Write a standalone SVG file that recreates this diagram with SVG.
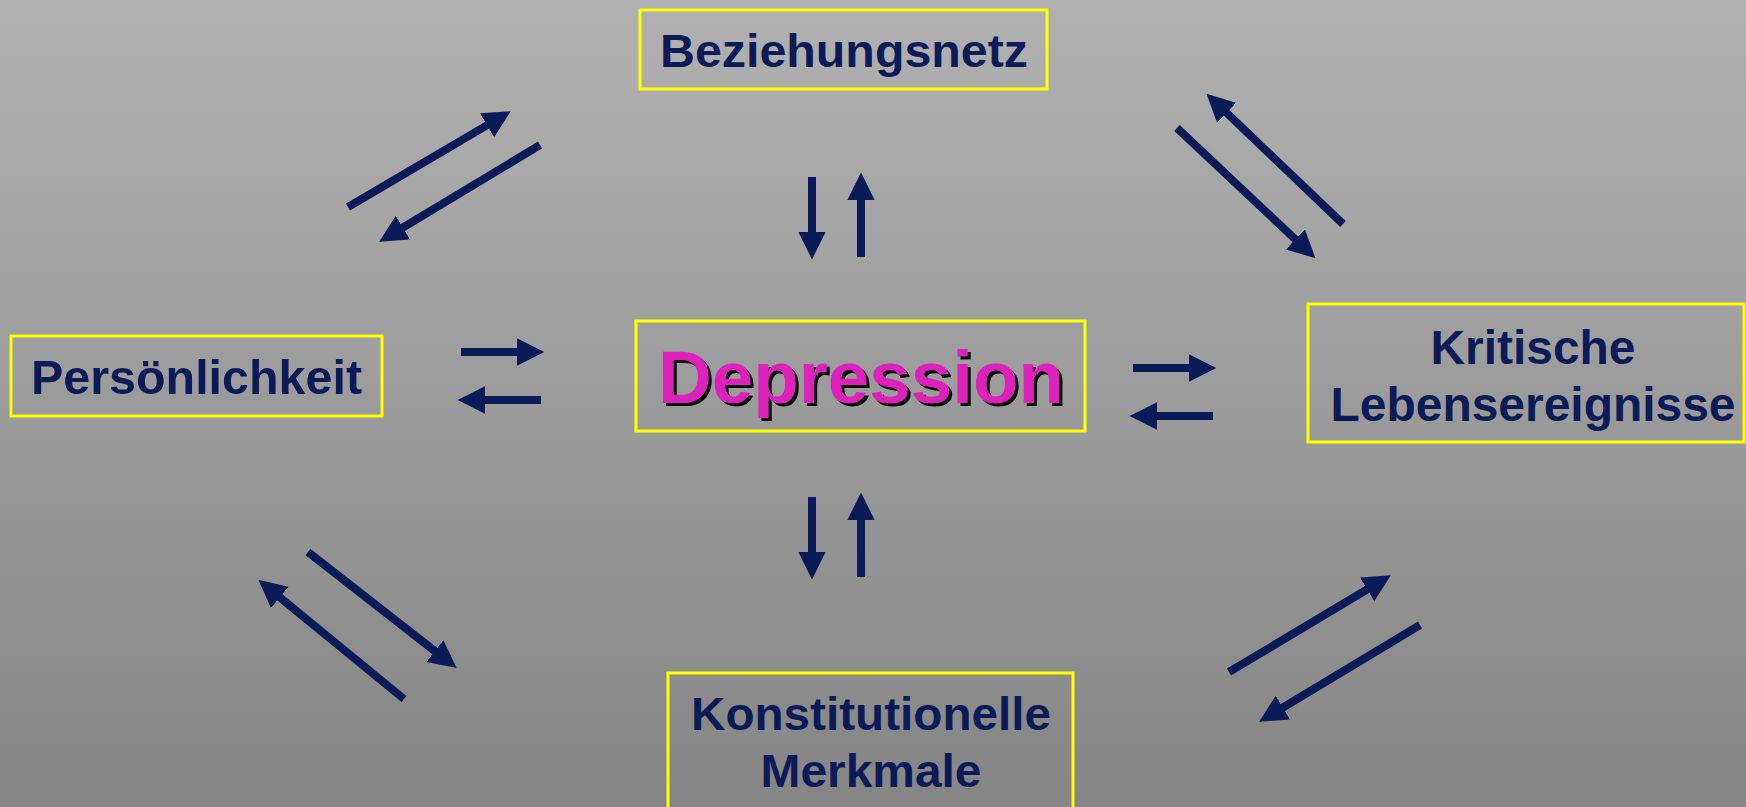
<svg xmlns="http://www.w3.org/2000/svg" width="1746" height="807" viewBox="0 0 1746 807">
<defs>
<linearGradient id="bg" x1="0" y1="0" x2="0" y2="1">
<stop offset="0" stop-color="#B1B1B1"/>
<stop offset="1" stop-color="#858585"/>
</linearGradient>
<marker id="ah" markerUnits="userSpaceOnUse" markerWidth="30" markerHeight="30" viewBox="0 -13 26 26" refX="2" refY="0" orient="auto">
<path d="M0,-12 L24,0 L0,12 z" fill="#0B1B57"/>
</marker>
<style>
.box{fill:none;stroke:#FFFF00;stroke-width:3}
.lbl{font-family:"Liberation Sans",Arial,sans-serif;font-weight:bold;fill:#0B1B57}
.arr{stroke:#0B1B57;stroke-width:8;fill:none;marker-end:url(#ah)}
.dep{font-family:"Liberation Sans",Arial,sans-serif;font-weight:bold;font-size:74px}
</style>
</defs>
<rect x="0" y="0" width="1746" height="807" fill="url(#bg)"/>
<g id="connectors">
<line class="arr" x1="348" y1="207" x2="489" y2="124.1"/>
<line class="arr" x1="540" y1="145" x2="400.9" y2="228.7"/>
<line class="arr" x1="1177" y1="128" x2="1297" y2="240.9"/>
<line class="arr" x1="1343" y1="224" x2="1224.9" y2="111.2"/>
<line class="arr" x1="812" y1="177" x2="812" y2="234"/>
<line class="arr" x1="861" y1="257" x2="861" y2="198"/>
<line class="arr" x1="812" y1="497" x2="812" y2="554"/>
<line class="arr" x1="861" y1="577" x2="861" y2="518"/>
<line class="arr" x1="461" y1="352" x2="519" y2="352"/>
<line class="arr" x1="541" y1="400" x2="483" y2="400"/>
<line class="arr" x1="1133" y1="368" x2="1191" y2="368"/>
<line class="arr" x1="1213" y1="416" x2="1155" y2="416"/>
<line class="arr" x1="308" y1="552" x2="436.7" y2="652.5"/>
<line class="arr" x1="404" y1="699" x2="278" y2="595.9"/>
<line class="arr" x1="1229" y1="672" x2="1369.1" y2="588.3"/>
<line class="arr" x1="1420" y1="625" x2="1280.9" y2="708.7"/>
</g>
<g id="beziehungsnetz">
<rect class="box" x="640" y="10" width="407" height="79"/>
<text class="lbl" x="660" y="67" font-size="47" textLength="368" lengthAdjust="spacingAndGlyphs">Beziehungsnetz</text>
</g>
<g id="persoenlichkeit">
<rect class="box" x="11" y="336" width="371" height="80"/>
<text class="lbl" x="31" y="394" font-size="48" textLength="331" lengthAdjust="spacingAndGlyphs">Persönlichkeit</text>
</g>
<g id="depression">
<rect class="box" x="636" y="321" width="449" height="110"/>
<text class="dep" x="661" y="406" fill="#000000" textLength="406" lengthAdjust="spacingAndGlyphs">Depression</text>
<text class="dep" x="658" y="403" fill="#DD22BB" textLength="406" lengthAdjust="spacingAndGlyphs">Depression</text>
</g>
<g id="kritische">
<rect class="box" x="1308" y="304" width="436" height="138"/>
<text class="lbl" x="1533" y="364" font-size="48" text-anchor="middle" textLength="205" lengthAdjust="spacingAndGlyphs">Kritische</text>
<text class="lbl" x="1533" y="421" font-size="48" text-anchor="middle" textLength="405" lengthAdjust="spacingAndGlyphs">Lebensereignisse</text>
</g>
<g id="konstitutionelle">
<rect class="box" x="668" y="673" width="405" height="140"/>
<text class="lbl" x="871" y="730" font-size="47" text-anchor="middle" textLength="360" lengthAdjust="spacingAndGlyphs">Konstitutionelle</text>
<text class="lbl" x="871" y="787" font-size="47" text-anchor="middle" textLength="221" lengthAdjust="spacingAndGlyphs">Merkmale</text>
</g>
</svg>
